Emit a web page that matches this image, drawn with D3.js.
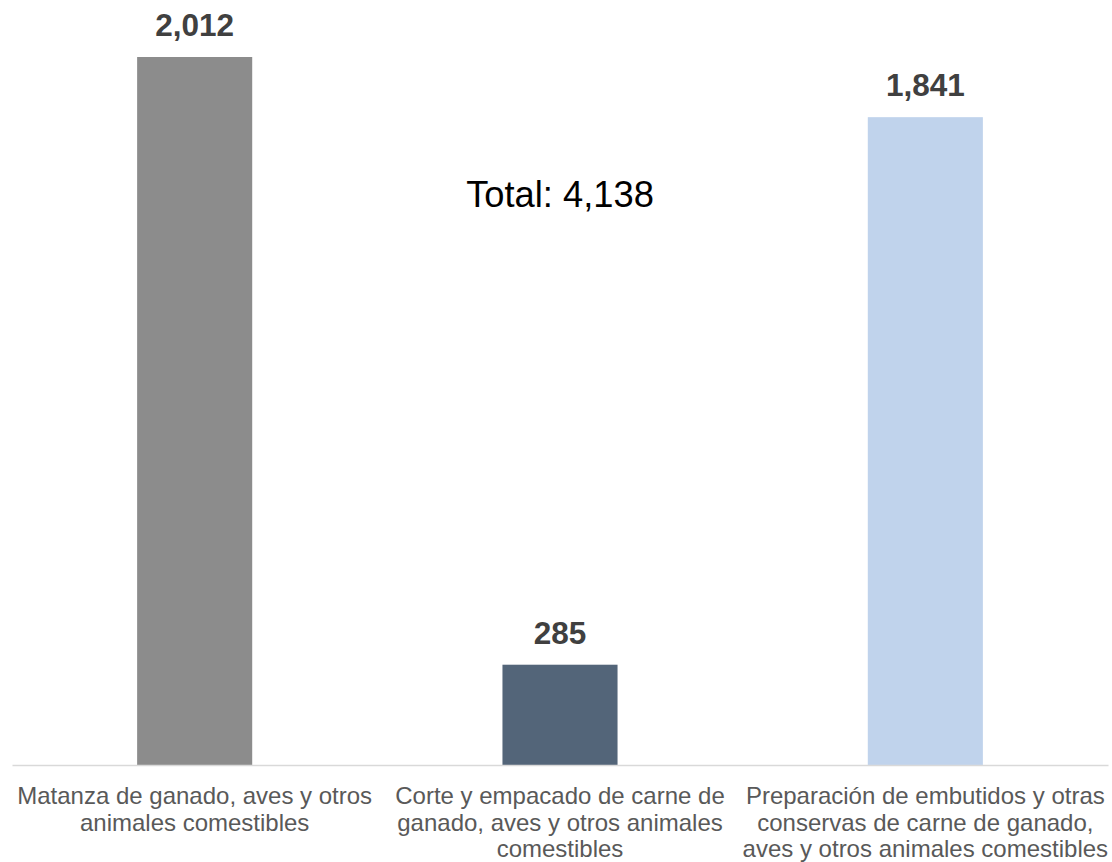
<!DOCTYPE html>
<html>
<head>
<meta charset="utf-8">
<script src="https://cdn.jsdelivr.net/npm/d3@7"></script>
<style>
  html, body { margin: 0; padding: 0; background: #ffffff; }
  svg { display: block; font-family: Arial, "Liberation Sans", sans-serif; }
</style>
</head>
<body>
<svg id="chart" width="1112" height="862"></svg>
<script>
const categories = [
  "Matanza de ganado, aves y otros animales comestibles",
  "Corte y empacado de carne de ganado, aves y otros animales comestibles",
  "Preparación de embutidos y otras conservas de carne de ganado, aves y otros animales comestibles"
];
const categoryLines = [
  ["Matanza de ganado, aves y otros", "animales comestibles"],
  ["Corte y empacado de carne de", "ganado, aves y otros animales", "comestibles"],
  ["Preparación de embutidos y otras", "conservas de carne de ganado,", "aves y otros animales comestibles"]
];
const values = [2012, 285, 1841];
const barColors = ["#8c8c8c", "#536579", "#c0d3ec"];
const totalLabel = "Total: 4,138";

const svg = d3.select("#chart");
const baselineY = 765;
const plotTopY = 57;

const x = d3.scaleBand()
  .domain(categories)
  .range([12, 1108])
  .paddingInner(0.685)
  .paddingOuter(0.3425);

const y = d3.scaleLinear()
  .domain([0, d3.max(values)])
  .range([baselineY, plotTopY]);

const data = categories.map((c, i) => ({ cat: c, lines: categoryLines[i], value: values[i], color: barColors[i] }));

svg.selectAll("rect.bar")
  .data(data)
  .enter().append("rect")
  .attr("class", "bar")
  .attr("x", d => x(d.cat))
  .attr("y", d => y(d.value))
  .attr("width", x.bandwidth())
  .attr("height", d => baselineY - y(d.value))
  .attr("fill", d => d.color);

// axis line
const xAxis = d3.axisBottom(x).tickSize(0).tickFormat("");
const axisG = svg.append("g")
  .attr("transform", `translate(0,${baselineY})`)
  .call(xAxis);
axisG.select(".domain").attr("stroke", "#d9d9d9").attr("stroke-width", 1.5);

// value labels
const fmt = d3.format(",");
svg.selectAll("text.val")
  .data(data)
  .enter().append("text")
  .attr("class", "val")
  .attr("x", d => x(d.cat) + x.bandwidth() / 2)
  .attr("y", d => y(d.value) - 21)
  .attr("text-anchor", "middle")
  .attr("font-size", 31.5)
  .attr("font-weight", "bold")
  .attr("fill", "#404040")
  .text(d => fmt(d.value));

// category labels
svg.selectAll("text.cat")
  .data(data)
  .enter().append("text")
  .attr("class", "cat")
  .attr("text-anchor", "middle")
  .attr("font-size", 24)
  .attr("fill", "#595959")
  .each(function(d) {
    const t = d3.select(this);
    const cx = x(d.cat) + x.bandwidth() / 2;
    d.lines.forEach((l, i) => {
      t.append("tspan")
        .attr("x", cx)
        .attr("y", 804 + i * 26.7)
        .text(l);
    });
  });

// total annotation
svg.append("text")
  .attr("x", x(categories[1]) + x.bandwidth() / 2)
  .attr("y", 207)
  .attr("text-anchor", "middle")
  .attr("font-size", 36.3)
  .attr("fill", "#000000")
  .text(totalLabel);
</script>
</body>
</html>
